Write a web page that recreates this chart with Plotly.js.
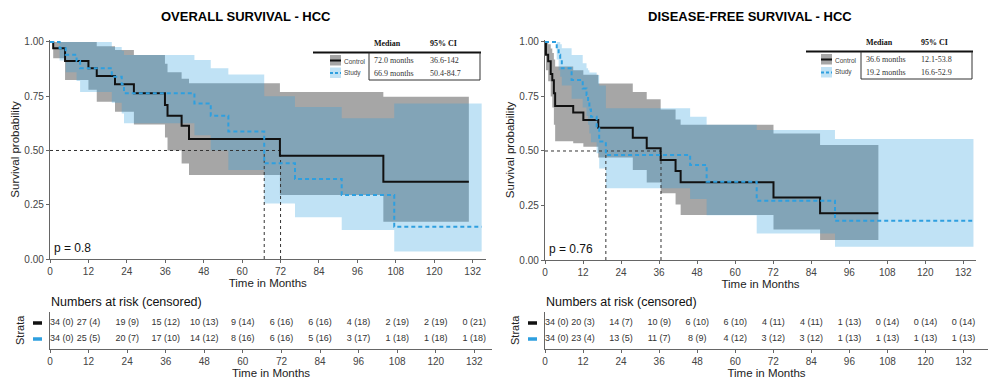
<!DOCTYPE html>
<html><head><meta charset="utf-8">
<script src="https://cdn.plot.ly/plotly-3.0.1.min.js"></script>
<style>html,body{margin:0;padding:0;background:#fff}#chart{width:991px;height:379px}</style>
</head><body><div id="chart"></div>
<script>
// ===== Overall survival - HCC =====
const osCtrlTimes = [0, 1.0, 4.7, 12.0, 14.6, 20.3, 26.2, 35.9, 36.7, 41.1, 43.4, 71.8, 104.1];
const osCtrlSurv  = [1.0, 0.971, 0.912, 0.879, 0.843, 0.805, 0.764, 0.710, 0.660, 0.614, 0.553, 0.476, 0.356];
const osCtrlUpper = [1.0, 1.0, 1.0, 1.0, 0.98, 0.963, 0.94, 0.90, 0.86, 0.83, 0.81, 0.77, 0.748];
const osCtrlLower = [1.0, 0.925, 0.825, 0.78, 0.725, 0.679, 0.62, 0.56, 0.50, 0.44, 0.387, 0.295, 0.172];
const osCtrlEnd = 130.8;

const osStudyTimes = [0, 3.0, 4.9, 8.3, 9.4, 19.3, 22.4, 23.1, 45.1, 50.2, 55.7, 66.9, 76.5, 91.1, 107.5];
const osStudySurv  = [1.0, 0.971, 0.941, 0.912, 0.879, 0.84, 0.805, 0.764, 0.717, 0.66, 0.587, 0.441, 0.369, 0.295, 0.149];
const osStudyUpper = [1.0, 1.0, 1.0, 1.0, 1.0, 0.977, 0.96, 0.94, 0.917, 0.879, 0.85, 0.75, 0.70, 0.648, 0.717];
const osStudyLower = [1.0, 0.915, 0.86, 0.82, 0.77, 0.72, 0.67, 0.625, 0.57, 0.50, 0.41, 0.256, 0.192, 0.134, 0.034];
const osStudyEnd = 134.8;

const osMedians = [72.0, 66.9];
const osMedianText = ["72.0 months", "66.9 months"];
const osCIText = ["36.6-142", "50.4-84.7"];
const osPValue = "p = 0.8";

// ===== Disease-free survival - HCC =====
const dfsCtrlTimes = [0, 0.3, 1.0, 1.8, 2.3, 2.8, 3.2, 8.9, 12.1, 16.8, 27.7, 32.1, 36.5, 41.2, 42.8, 72.1, 86.8];
const dfsCtrlSurv  = [1.0, 0.941, 0.912, 0.853, 0.824, 0.765, 0.706, 0.677, 0.642, 0.607, 0.561, 0.512, 0.459, 0.408, 0.357, 0.287, 0.214];
const dfsCtrlUpper = [1.0, 1.0, 0.99, 0.97, 0.95, 0.92, 0.887, 0.87, 0.85, 0.81, 0.77, 0.737, 0.69, 0.645, 0.62, 0.58, 0.527];
const dfsCtrlLower = [1.0, 0.87, 0.82, 0.75, 0.70, 0.62, 0.545, 0.535, 0.52, 0.47, 0.413, 0.355, 0.306, 0.255, 0.206, 0.14, 0.092];
const dfsCtrlEnd = 105.2;

const dfsStudyTimes = [0, 3.7, 4.3, 4.8, 5.3, 8.4, 11.9, 13.1, 13.6, 14.0, 14.5, 16.3, 17.1, 19.2, 45.8, 51.0, 66.8, 91.5];
const dfsStudySurv  = [1.0, 0.971, 0.941, 0.912, 0.879, 0.826, 0.787, 0.757, 0.734, 0.69, 0.657, 0.604, 0.543, 0.482, 0.436, 0.359, 0.272, 0.18];
const dfsStudyUpper = [1.0, 1.0, 1.0, 0.99, 0.971, 0.94, 0.902, 0.88, 0.87, 0.86, 0.86, 0.849, 0.80, 0.696, 0.657, 0.62, 0.596, 0.555];
const dfsStudyLower = [1.0, 0.92, 0.87, 0.84, 0.80, 0.74, 0.70, 0.66, 0.62, 0.58, 0.54, 0.49, 0.42, 0.329, 0.28, 0.205, 0.122, 0.061];
const dfsStudyEnd = 135.2;

const dfsMedians = [36.6, 19.2];
const dfsMedianText = ["36.6 months", "19.2 months"];
const dfsCIText = ["12.1-53.8", "16.6-52.9"];
const dfsPValue = "p = 0.76";

// ===== Numbers at risk (censored) =====
const riskTimes = [0, 12, 24, 36, 48, 60, 72, 84, 96, 108, 120, 132];
const osRiskCtrl  = ["34 (0)","27 (4)","19 (9)","15 (12)","10 (13)","9 (14)","6 (16)","6 (16)","4 (18)","2 (19)","2 (19)","0 (21)"];
const osRiskStudy = ["34 (0)","25 (5)","20 (7)","17 (10)","14 (12)","8 (16)","6 (16)","5 (16)","3 (17)","1 (18)","1 (18)","1 (18)"];
const dfsRiskCtrl  = ["34 (0)","20 (3)","14 (7)","10 (9)","6 (10)","6 (10)","4 (11)","4 (11)","1 (13)","0 (14)","0 (14)","0 (14)"];
const dfsRiskStudy = ["34 (0)","23 (4)","13 (5)","11 (7)","8 (9)","4 (12)","3 (12)","3 (12)","1 (13)","1 (13)","1 (13)","1 (13)"];

const groupNames = ["Control", "Study"];
const xTicks = riskTimes;
const yTicks = [0, 0.25, 0.5, 0.75, 1.0];

// ===== styles =====
const W = 991, H = 379;
const SANS = 'Liberation Sans, Arial, sans-serif';
const SERIF = 'Liberation Serif, Times New Roman, serif';
const CTRL_LINE = '#111111';
const STUDY_LINE = '#2E9FDF';
const CTRL_FILL = 'rgba(0,0,0,0.35)';
const STUDY_FILL = 'rgba(46,159,223,0.30)';
const px = v => v / W;
const py = v => (H - v) / H;

function kmTrace(times, surv, end, xa, ya, color, dash) {
  return {x: times.concat([end]), y: surv.concat([surv[surv.length-1]]), xaxis: xa, yaxis: ya,
    mode: 'lines', line: {shape: 'hv', color: color, width: 2, dash: dash}, hoverinfo: 'skip'};
}
function bandTrace(times, upper, lower, end, xa, ya, fill) {
  const x = [], y = [];
  for (let i = 0; i < times.length; i++) {
    const t1 = i + 1 < times.length ? times[i+1] : end;
    x.push(times[i], t1); y.push(upper[i], upper[i]);
  }
  for (let i = times.length - 1; i >= 0; i--) {
    const t1 = i + 1 < times.length ? times[i+1] : end;
    x.push(t1, times[i]); y.push(lower[i], lower[i]);
  }
  return {x, y, xaxis: xa, yaxis: ya, mode: 'lines', fill: 'toself', fillcolor: fill,
    line: {width: 0}, hoverinfo: 'skip'};
}
function medianTrace(medians, xa, ya) {
  const x = [0, Math.max(...medians), null], y = [0.5, 0.5, null];
  medians.forEach(m => { x.push(m, m, null); y.push(0, 0.5, null); });
  return {x, y, xaxis: xa, yaxis: ya, mode: 'lines', line: {color: '#333', width: 1, dash: 'dot'}, hoverinfo: 'skip'};
}
function riskTrace(texts, row, xa, ya) {
  return {x: riskTimes, y: riskTimes.map(() => row), text: texts, xaxis: xa, yaxis: ya, mode: 'text',
    textposition: riskTimes.map((t, i) => i === 0 ? 'middle right' : 'middle center'),
    textfont: {family: SANS, size: 9, color: '#333'}, hoverinfo: 'skip', cliponaxis: false};
}

const data = [
  bandTrace(osCtrlTimes, osCtrlUpper, osCtrlLower, osCtrlEnd, 'x', 'y', CTRL_FILL),
  bandTrace(osStudyTimes, osStudyUpper, osStudyLower, osStudyEnd, 'x', 'y', STUDY_FILL),
  medianTrace(osMedians, 'x', 'y'),
  kmTrace(osCtrlTimes, osCtrlSurv, osCtrlEnd, 'x', 'y', CTRL_LINE, 'solid'),
  kmTrace(osStudyTimes, osStudySurv, osStudyEnd, 'x', 'y', STUDY_LINE, '4px,3px'),
  bandTrace(dfsCtrlTimes, dfsCtrlUpper, dfsCtrlLower, dfsCtrlEnd, 'x2', 'y2', CTRL_FILL),
  bandTrace(dfsStudyTimes, dfsStudyUpper, dfsStudyLower, dfsStudyEnd, 'x2', 'y2', STUDY_FILL),
  medianTrace(dfsMedians, 'x2', 'y2'),
  kmTrace(dfsCtrlTimes, dfsCtrlSurv, dfsCtrlEnd, 'x2', 'y2', CTRL_LINE, 'solid'),
  kmTrace(dfsStudyTimes, dfsStudySurv, dfsStudyEnd, 'x2', 'y2', STUDY_LINE, '4px,3px'),
  riskTrace(osRiskCtrl, 2, 'x3', 'y3'),
  riskTrace(osRiskStudy, 1, 'x3', 'y3'),
  riskTrace(dfsRiskCtrl, 2, 'x4', 'y4'),
  riskTrace(dfsRiskStudy, 1, 'x4', 'y4')
];

const axisBase = {showline: true, linecolor: '#666', linewidth: 1.2, ticks: 'outside', ticklen: 3,
  tickcolor: '#666', tickwidth: 1, showgrid: false, zeroline: false, fixedrange: true,
  tickfont: {family: SANS, size: 10, color: '#444'}};
const titleFont = {family: SANS, size: 11.5, color: '#222'};

function xMain(domain) {
  return Object.assign({}, axisBase, {domain, range: [0, 136], tickvals: xTicks,
    title: {text: 'Time in Months', font: titleFont, standoff: 0}});
}
function yMain(domain, anchor) {
  return Object.assign({}, axisBase, {domain, anchor, range: [0, 1.01], tickvals: yTicks, tickformat: '.2f',
    title: {text: 'Survival probability', font: titleFont, standoff: 2}});
}
function xTable(domain, maxT, anchor) {
  return Object.assign({}, axisBase, {domain, anchor, range: [0, maxT], tickvals: xTicks,
    title: {text: 'Time in Months', font: titleFont, standoff: 0}});
}
function yTable(domain, anchor) {
  return Object.assign({}, axisBase, {domain, anchor, range: [0.375, 2.6875], ticks: '', showticklabels: false});
}

const mainY = [py(259), py(39.8)];
const mainY2 = [py(260), py(39.8)];
const tabY = [py(349), py(312)];

const layout = {
  width: W, height: H, margin: {l: 0, r: 0, t: 0, b: 0}, showlegend: false,
  paper_bgcolor: '#fff', plot_bgcolor: 'rgba(0,0,0,0)',
  xaxis: Object.assign(xMain([px(50), px(485.5)]), {anchor: 'y'}),
  yaxis: yMain(mainY, 'x'),
  xaxis2: Object.assign(xMain([px(545), px(976)]), {anchor: 'y2'}),
  yaxis2: yMain(mainY2, 'x2'),
  xaxis3: xTable([px(50), px(492)], 137.5, 'y3'),
  yaxis3: yTable(tabY, 'x3'),
  xaxis4: xTable([px(545), px(988)], 139.7, 'y4'),
  yaxis4: yTable(tabY, 'x4'),
  shapes: [], annotations: []
};

function ann(text, x, y, opts) {
  layout.annotations.push(Object.assign({text, x: px(x), y: py(y), xref: 'paper', yref: 'paper',
    showarrow: false, xanchor: 'left', yanchor: 'middle', font: {family: SANS, size: 10, color: '#222'}}, opts || {}));
}
function line(x0, y0, x1, y1, color, width, dash) {
  layout.shapes.push({type: 'line', xref: 'paper', yref: 'paper', x0: px(x0), y0: py(y0), x1: px(x1), y1: py(y1),
    line: {color, width, dash: dash || 'solid'}});
}
function rect(x0, y0, x1, y1, fill) {
  layout.shapes.push({type: 'rect', xref: 'paper', yref: 'paper', x0: px(x0), y0: py(y0), x1: px(x1), y1: py(y1),
    fillcolor: fill, line: {width: 0}});
}

// titles
ann('OVERALL SURVIVAL - HCC', 246, 17, {xanchor: 'center', font: {family: SANS, size: 13, color: '#000', weight: 'bold'}});
ann('DISEASE-FREE SURVIVAL - HCC', 750, 17, {xanchor: 'center', font: {family: SANS, size: 13, color: '#000', weight: 'bold'}});

// p-values
ann(osPValue, 52, 248, {font: {family: SANS, size: 12, color: '#111'}});
ann(dfsPValue, 547, 249, {font: {family: SANS, size: 12, color: '#111'}});

// median tables
function medianTable(lineX0, divX, rightX, topY, botY, keyX, colMed, colCI, headY, row1Y, row2Y, medTxt, ciTxt) {
  ann('Median', colMed, headY, {font: {family: SERIF, size: 8, color: '#111', weight: 'bold'}});
  ann('95% CI', colCI, headY, {font: {family: SERIF, size: 8, color: '#111', weight: 'bold'}});
  line(lineX0, topY, rightX + 1, topY, '#111', 2);
  line(divX, topY, divX, botY, '#333', 1);
  line(rightX, topY, rightX, botY, '#333', 1);
  line(divX, botY, rightX, botY, '#333', 1);
  ann(medTxt[0], colMed, row1Y, {font: {family: SERIF, size: 8, color: '#333'}});
  ann(ciTxt[0], colCI, row1Y, {font: {family: SERIF, size: 8, color: '#333'}});
  ann(medTxt[1], colMed, row2Y, {font: {family: SERIF, size: 8, color: '#333'}});
  ann(ciTxt[1], colCI, row2Y, {font: {family: SERIF, size: 8, color: '#333'}});
  rect(keyX, row1Y - 5.5, keyX + 11, row1Y + 5, CTRL_FILL);
  line(keyX, row1Y, keyX + 11, row1Y, CTRL_LINE, 2);
  rect(keyX, row2Y - 5.5, keyX + 11, row2Y + 5, STUDY_FILL);
  line(keyX, row2Y, keyX + 11, row2Y, STUDY_LINE, 2, '3px,2px');
  ann(groupNames[0], keyX + 12, row1Y + 0.5, {font: {family: SANS, size: 6.5, color: '#444'}});
  ann(groupNames[1], keyX + 12, row2Y, {font: {family: SANS, size: 6.5, color: '#444'}});
}
medianTable(313, 369, 480, 52.5, 80, 330, 372, 428, 43, 60.5, 73, osMedianText, osCIText);
medianTable(806, 861, 972, 51.5, 79, 821, 864, 919, 42.5, 59.5, 72.5, dfsMedianText, dfsCIText);

// risk table headers & strata keys
function riskHeader(x0, stripX, keyX, ya) {
  ann('Numbers at risk (censored)', x0, 302, {font: {family: SANS, size: 12.5, color: '#111'}});
  ann('Strata', stripX, 330, {xanchor: 'center', textangle: -90, font: {family: SANS, size: 11, color: '#222'}});
  layout.shapes.push({type: 'line', xref: 'paper', yref: ya, x0: px(keyX), x1: px(keyX + 9), y0: 2, y1: 2,
    line: {color: CTRL_LINE, width: 3.5}});
  layout.shapes.push({type: 'line', xref: 'paper', yref: ya, x0: px(keyX), x1: px(keyX + 9), y0: 1, y1: 1,
    line: {color: STUDY_LINE, width: 3.5}});
}
riskHeader(49, 20, 33, 'y3');
riskHeader(544, 515, 528, 'y4');

Plotly.newPlot('chart', data, layout, {staticPlot: true, displayModeBar: false});
</script>
</body></html>
